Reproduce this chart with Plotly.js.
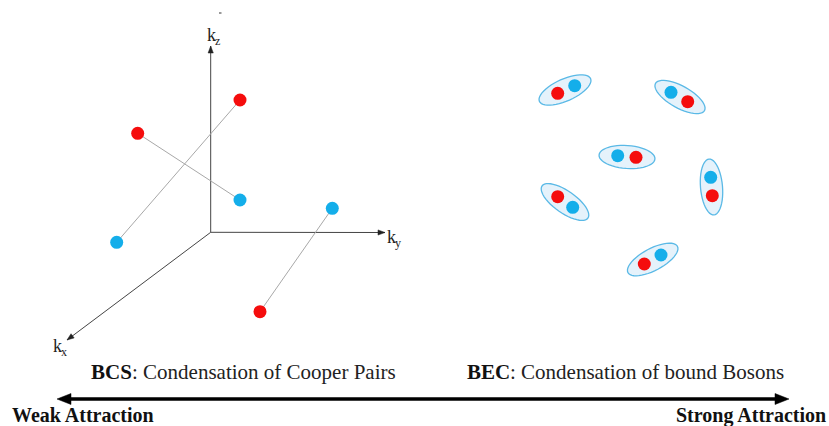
<!DOCTYPE html>
<html><head><meta charset="utf-8">
<script src="https://cdn.plot.ly/plotly-3.0.1.min.js"></script>
<style>html,body{margin:0;padding:0;background:#fff}#chart{width:829px;height:426px}</style>
</head><body><div id="chart"></div>
<script>
// BCS panel: Cooper pairs (red and blue partner, in picture coordinates)
const bcsRedX = [240, 137.7, 260];
const bcsRedY = [100, 133.3, 311.7];
const bcsBlueX = [116.7, 240, 332.3];
const bcsBlueY = [242.3, 200, 208.3];

// BEC panel: bound bosons (ellipse centre, half-axes, tilt degrees)
const becCx = [565, 680, 627, 711.5, 565, 652.7];
const becCy = [90, 97, 157, 187, 202, 259.5];
const becA = [28, 28, 28, 28, 28, 28];
const becB = [11, 11, 11.5, 11, 11, 11];
const becAng = [-24, 29, 4, 85, 35, -28];
const becRedX = [557.7, 687.7, 636, 712.3, 557.7, 644.3];
const becRedY = [93.3, 101.7, 157.3, 195.7, 196.7, 264];
const becBlueX = [574.7, 671, 617.7, 710.7, 572.7, 661];
const becBlueY = [85.7, 92.3, 155.7, 177.3, 207.3, 255];

// Axes of the momentum diagram
const origin = [210.7, 232.3];
const axisEndX = [210.7, 385, 67];
const axisEndY = [46, 232.5, 340];
const axisSubs = ["z", "y", "x"];
const axisLabelX = [211, 391, 57];
const axisLabelY = [35, 237, 346];

// Texts
const captionBold = ["BCS", "BEC"];
const captionRest = [": Condensation of Cooper Pairs", ": Condensation of bound Bosons"];
const captionSplitX = [132, 510];
const captionY = [372, 372];
const endLabels = ["Weak Attraction", "Strong Attraction"];
const arrowX = [57, 789];
const arrowY = 399;

const RED = '#f50d0d', BLUE = '#14aeea';
const serif = "Liberation Serif";

const traces = [];
const lx = [], ly = [];
for (let i = 0; i < bcsRedX.length; i++) {
  lx.push(bcsRedX[i], bcsBlueX[i], null);
  ly.push(bcsRedY[i], bcsBlueY[i], null);
}
traces.push({x: lx, y: ly, mode: 'lines', line: {color: '#a8a8a8', width: 1}, hoverinfo: 'skip', showlegend: false});
traces.push({x: bcsRedX.concat(becRedX), y: bcsRedY.concat(becRedY), mode: 'markers',
  marker: {color: RED, size: 13, line: {width: 0}}, hoverinfo: 'skip', showlegend: false});
traces.push({x: bcsBlueX.concat(becBlueX), y: bcsBlueY.concat(becBlueY), mode: 'markers',
  marker: {color: BLUE, size: 13, line: {width: 0}}, hoverinfo: 'skip', showlegend: false});

const shapes = [];
for (let i = 0; i < becCx.length; i++) {
  const t = becAng[i] * Math.PI / 180;
  let p = '';
  const N = 48;
  for (let k = 0; k <= N; k++) {
    const u = 2 * Math.PI * k / N;
    const ex = becA[i] * Math.cos(u), ey = becB[i] * Math.sin(u);
    const X = becCx[i] + ex * Math.cos(t) - ey * Math.sin(t);
    const Y = becCy[i] + ex * Math.sin(t) + ey * Math.cos(t);
    p += (k === 0 ? 'M' : 'L') + X.toFixed(2) + ',' + Y.toFixed(2);
  }
  p += 'Z';
  shapes.push({type: 'path', path: p, xref: 'x', yref: 'y', layer: 'below',
    fillcolor: '#e5f2fb', line: {color: '#5ab9e6', width: 1.3}});
}
function head(x0, y0, x1, y1, len, half, color) {
  const dx = x1 - x0, dy = y1 - y0, L = Math.hypot(dx, dy);
  const ux = dx / L, uy = dy / L, px = -uy, py = ux;
  const bx = x1 - ux * len, by = y1 - uy * len;
  return {type: 'path', xref: 'x', yref: 'y', fillcolor: color, line: {color: color, width: 0.5},
    path: 'M' + x1 + ',' + y1 + 'L' + (bx + px * half) + ',' + (by + py * half) +
      'L' + (bx - px * half) + ',' + (by - py * half) + 'Z'};
}
for (let i = 0; i < axisEndX.length; i++) {
  shapes.push({type: 'line', xref: 'x', yref: 'y', x0: origin[0], y0: origin[1],
    x1: axisEndX[i], y1: axisEndY[i], layer: 'below', line: {color: '#444', width: 1}});
  shapes.push(head(origin[0], origin[1], axisEndX[i], axisEndY[i], 7, 2.6, '#222'));
}
shapes.push({type: 'line', xref: 'x', yref: 'y', x0: 219, y0: 13, x1: 221.5, y1: 13, line: {color: '#555', width: 1.2}});
shapes.push({type: 'line', xref: 'x', yref: 'y', x0: arrowX[0] + 8, y0: arrowY, x1: arrowX[1] - 8, y1: arrowY,
  line: {color: '#000', width: 3.5}});
shapes.push(head(arrowX[1], arrowY, arrowX[0], arrowY, 14, 5.5, '#000'));
shapes.push(head(arrowX[0], arrowY, arrowX[1], arrowY, 14, 5.5, '#000'));

const annotations = [];
axisSubs.forEach((s, i) => {
  annotations.push({x: axisLabelX[i], y: axisLabelY[i], xref: 'x', yref: 'y', borderpad: 0,
    text: 'k', showarrow: false, font: {family: serif, size: 18, color: '#222'}});
  annotations.push({x: axisLabelX[i] + 3, y: axisLabelY[i] + 6, xref: 'x', yref: 'y', xanchor: 'left', borderpad: 0,
    text: s, showarrow: false, font: {family: serif, size: 12, color: '#222'}});
});
captionBold.forEach((t, i) => {
  annotations.push({x: captionSplitX[i] + 1, y: captionY[i], xref: 'x', yref: 'y', xanchor: 'right', borderpad: 0,
    text: t, showarrow: false, font: {family: serif, size: 21, color: '#111', weight: 'bold'}});
  annotations.push({x: captionSplitX[i] - 1, y: captionY[i], xref: 'x', yref: 'y', xanchor: 'left', borderpad: 0,
    text: captionRest[i], showarrow: false, font: {family: serif, size: 21, color: '#222'}});
});
annotations.push({x: 10, y: 415, xref: 'x', yref: 'y', xanchor: 'left', text: endLabels[0], showarrow: false,
  font: {family: serif, size: 20, color: '#111', weight: 'bold'}});
annotations.push({x: 828, y: 415, xref: 'x', yref: 'y', xanchor: 'right', text: endLabels[1], showarrow: false,
  font: {family: serif, size: 20, color: '#111', weight: 'bold'}});

const layout = {
  width: 829, height: 426, margin: {l: 0, r: 0, t: 0, b: 0},
  font: {family: serif},
  paper_bgcolor: '#fff', plot_bgcolor: '#fff', showlegend: false,
  xaxis: {range: [0, 829], visible: false, fixedrange: true},
  yaxis: {range: [426, 0], visible: false, fixedrange: true},
  shapes: shapes, annotations: annotations
};
Plotly.newPlot('chart', traces, layout, {displayModeBar: false, staticPlot: true});
</script></body></html>
